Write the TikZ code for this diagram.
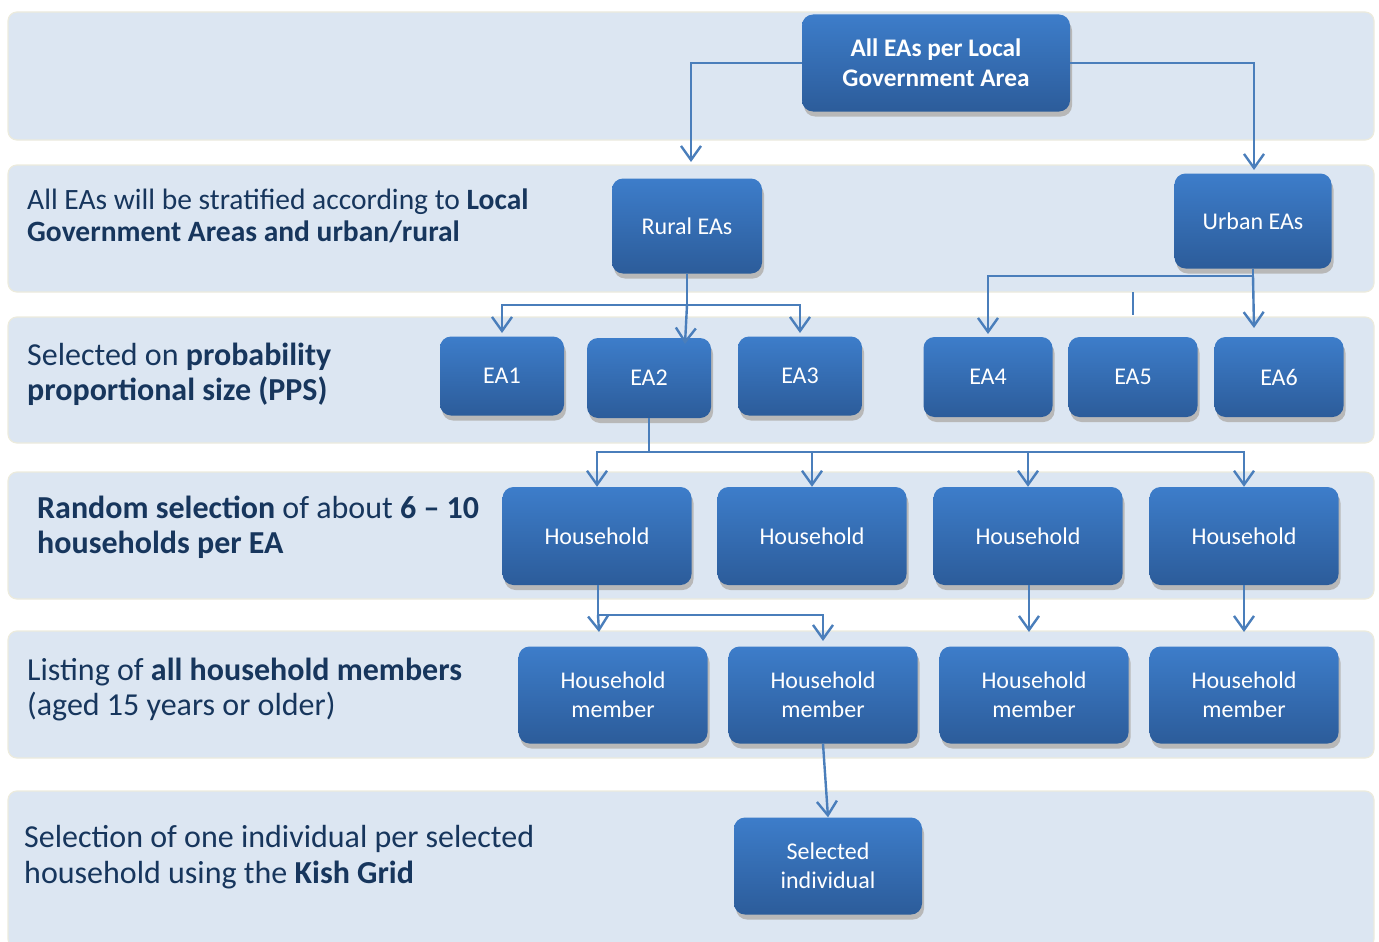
\documentclass[tikz,border=0pt]{standalone}
\usepackage{fontspec}
\setmainfont{Carlito}
\usetikzlibrary{arrows.meta,shadows}
\definecolor{bandfill}{HTML}{DCE6F2}
\definecolor{bandline}{HTML}{ECEBDD}
\definecolor{boxtop}{HTML}{3D7DCA}
\definecolor{boxbot}{HTML}{2C5C9A}
\definecolor{conn}{HTML}{4A7EBB}
\definecolor{txt}{HTML}{17365D}
\tikzset{
  band/.style={draw=bandline, line width=1.2pt, fill=bandfill, rounded corners=9pt},
  bx/.style={rectangle, rounded corners=11pt, top color=boxtop, bottom color=boxbot,
    draw=none, text=white, align=center, inner sep=0pt,
    font=\fontsize{24}{29}\selectfont,
    drop shadow={shadow xshift=2pt, shadow yshift=-5pt, fill=black!28, opacity=1}},
  lbl/.style={anchor=west, align=left, inner sep=0pt, text=txt, font=\fontsize{32}{35}\selectfont},
  cn/.style={draw=conn, line width=2.4pt},
  arr/.style={cn, -{Straight Barb[length=14pt,width=20pt,line width=2.4pt]}},
}
\begin{document}
\begin{tikzpicture}[x=1pt,y=-1pt]
\useasboundingbox (0,0) rectangle (1379,942);
% bands
\path[band] (8,12) rectangle (1374,140);
\path[band] (8,165) rectangle (1374,292);
\path[band] (8,317) rectangle (1374,443);
\path[band] (8,472) rectangle (1374,599);
\path[band] (8,631) rectangle (1374,758);
\path[band] (8,791) rectangle (1374,948);
% left texts
\node[lbl, font=\fontsize{29.5}{32}\selectfont] (t2) at (27,216) {All EAs will be stratified according to \textbf{Local}\\\textbf{Government Areas and urban/rural}};
\node[lbl] (t3) at (27,374) {Selected on \textbf{probability}\\\textbf{proportional size (PPS)}};
\node[lbl] (t4) at (37,527) {\textbf{Random selection} of about \textbf{6 – 10}\\\textbf{households per EA}};
\node[lbl] (t5) at (27,690) {Listing of \textbf{all household members}\\(aged 15 years or older)};
\node[lbl, font=\fontsize{32}{36}\selectfont] (t6) at (24,857) {Selection of one individual per selected\\household using the \textbf{Kish Grid}};
% boxes
\node[bx, minimum width=268pt, minimum height=97pt, font=\bfseries\fontsize{25.3}{30}\selectfont] (top) at (936,63) {All EAs per Local\\Government Area};
\node[bx, minimum width=150pt, minimum height=95pt] (rural) at (687,226) {Rural EAs};
\node[bx, minimum width=157pt, minimum height=95pt] (urban) at (1253,221) {Urban EAs};
\node[bx, minimum width=124pt, minimum height=79pt] (ea1) at (502,376) {EA1};
\node[bx, minimum width=124pt, minimum height=80pt] (ea2) at (649,378) {EA2};
\node[bx, minimum width=124pt, minimum height=79pt] (ea3) at (800,376) {EA3};
\node[bx, minimum width=129pt, minimum height=80pt] (ea4) at (988,377) {EA4};
\node[bx, minimum width=129pt, minimum height=80pt] (ea5) at (1133,377) {EA5};
\node[bx, minimum width=129pt, minimum height=80pt] (ea6) at (1279,377) {EA6};
\node[bx, minimum width=189pt, minimum height=98pt] (h1) at (597,536) {Household};
\node[bx, minimum width=189pt, minimum height=98pt] (h2) at (812,536) {Household};
\node[bx, minimum width=189pt, minimum height=98pt] (h3) at (1028,536) {Household};
\node[bx, minimum width=189pt, minimum height=98pt] (h4) at (1244,536) {Household};
\node[bx, minimum width=189pt, minimum height=97pt] (m1) at (613,695) {Household\\member};
\node[bx, minimum width=189pt, minimum height=97pt] (m2) at (823,695) {Household\\member};
\node[bx, minimum width=189pt, minimum height=97pt] (m3) at (1034,695) {Household\\member};
\node[bx, minimum width=189pt, minimum height=97pt] (m4) at (1244,695) {Household\\member};
\node[bx, minimum width=188pt, minimum height=97pt] (sel) at (828,866) {Selected\\individual};
% coordinates
\coordinate (rj) at (687,305);
\coordinate (uj) at (1253,276);
\coordinate (ej) at (649,452);
\coordinate (hj) at (598,615);
\coordinate (stub1) at (1133,292);
\coordinate (stub2) at (1133,315);
% connectors
\draw[arr] (top.west) -| (691,162);
\draw[arr] (top.east) -| (1254,170);
\draw[cn] (rural.south) -- (rj);
\draw[arr] (rj) -| (502,333);
\draw[arr] (rj) -| (800,333);
\draw[arr] (rj) -- (685,344);
\draw[cn] (urban.south) -- (uj);
\draw[arr] (uj) -| (988,334);
\draw[arr] (uj) -- (1254,328);
\draw[cn] (stub1) -- (stub2);
\draw[cn] (ea2.south) -- (ej);
\draw[arr] (ej) -| (h1.north);
\draw[arr] (ej) -| (h2.north);
\draw[arr] (ej) -| (h3.north);
\draw[arr] (ej) -| (h4.north);
\draw[cn] (598,585) -- (hj);
\draw[arr] (hj) -- (599,632);
\draw[arr] (hj) -| (823,641);
\draw[arr] (1029,585) -- (1029,632);
\draw[arr] (h4.south) -- (1244,632);
\draw[arr] (m2.south) -- (sel.north);
\end{tikzpicture}
\end{document}
